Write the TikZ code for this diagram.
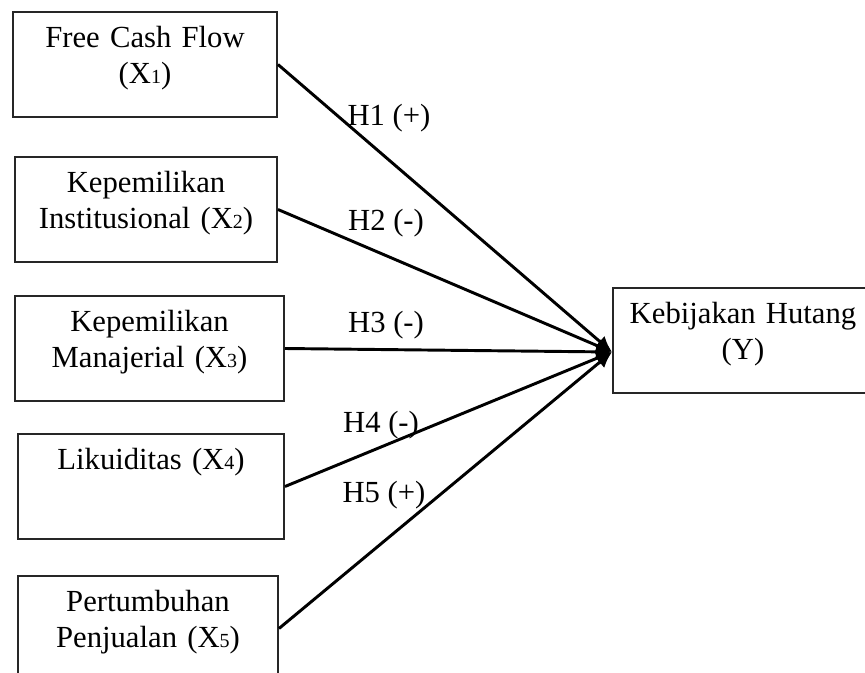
\documentclass[tikz,border=0pt]{standalone}
\usepackage{fontspec}
\setmainfont{Liberation Serif}
\usepackage{xcolor}
\usepackage{tikz}
\usetikzlibrary{arrows.meta,positioning}
\newcommand{\xsub}[1]{{\fontsize{15pt}{15pt}\selectfont #1}}

\begin{document}
\begin{tikzpicture}[
x=0.75pt, y=-0.75pt,
font=\fontsize{23pt}{27pt}\selectfont,
varbox/.style={draw=black!85, line width=1.5pt, anchor=north west, align=center, inner sep=0pt, text height=26.25pt, text depth=52.5pt},
hyp/.style={anchor=base, inner sep=0pt},
arrow/.style={-{Latex[length=12pt, width=11pt]}, line width=2.2pt}
]
\useasboundingbox (0,0) rectangle (865,672);
\clip (0,0) rectangle (865,672);
\node[varbox, text width=198pt] (fcf) at (12,11) {Free Cash Flow\\ (X\xsub{1})};
\node[varbox, text width=196.5pt] (kepinst) at (14,156) {Kepemilikan\\ Institusional (X\xsub{2})};
\node[varbox, text width=201.75pt] (kepman) at (14,295) {Kepemilikan\\ Manajerial (X\xsub{3})};
\node[varbox, text width=199.5pt] (likuid) at (17,433) {Likuiditas (X\xsub{4})\\ \mbox{}};
\node[varbox, text width=195pt] (pertumb) at (17,575) {Pertumbuhan\\ Penjualan (X\xsub{5})};
\node[varbox, text width=195pt] (hutang) at (612,287) {Kebijakan Hutang\\ (Y)};
\coordinate (tip) at (612,352);
\node[hyp] (h1) at (389,125) {H1 (+)};
\node[hyp] (h2) at (386,230) {H2 (-)};
\node[hyp] (h3) at (386,332) {H3 (-)};
\node[hyp] (h4) at (381,432) {H4 (-)};
\node[hyp] (h5) at (384,502) {H5 (+)};
\draw[arrow] (fcf.east) -- (tip);
\draw[arrow] (kepinst.east) -- (tip);
\draw[arrow] (kepman.east) -- (tip);
\draw[arrow] (likuid.east) -- (tip);
\draw[arrow] (pertumb.east) -- (tip);
\end{tikzpicture}
\end{document}
